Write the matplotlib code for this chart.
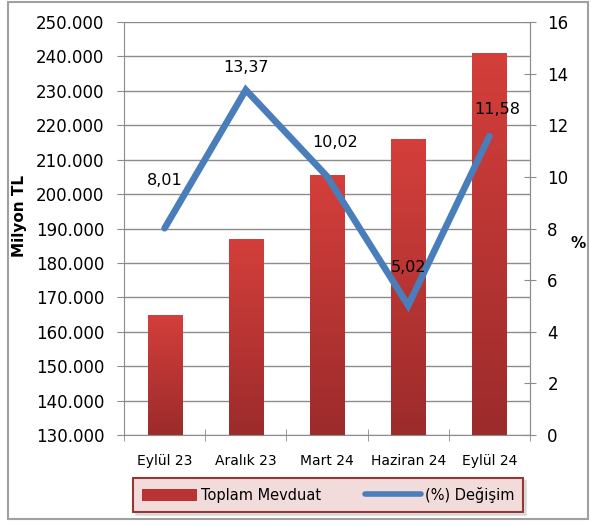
import numpy as np
import matplotlib
matplotlib.use("Agg")
import matplotlib.pyplot as plt
from matplotlib.patches import Rectangle, Patch
from matplotlib.lines import Line2D
from matplotlib.ticker import FixedLocator, FuncFormatter

categories = ["Eylül 23", "Aralık 23", "Mart 24", "Haziran 24", "Eylül 24"]
deposits = [164900, 187000, 205600, 216000, 240900]      # Milyon TL
change_pct = [8.01, 13.37, 10.02, 5.02, 11.58]
change_labels = ["8,01", "13,37", "10,02", "5,02", "11,58"]
label_offsets = [(0, 40), (0, 15), (8, 26), (0, 30), (8, 19)]   # px above the point

plt.rcParams["font.family"] = ["DejaVu Sans"]
BLUE = "#4a7ebb"
GRID = "#8c8c8c"

fig = plt.figure(figsize=(5.91, 5.25), dpi=100)
ax = fig.add_axes([124/591, 90/525, 406/591, 413/525])
x = np.arange(len(categories))

# bars with vertical gradient (light red top, dark red bottom)
grad = np.linspace(0, 1, 256).reshape(-1, 1)
cmap = matplotlib.colors.LinearSegmentedColormap.from_list("rg", ["#9c2b2b", "#d43f3b"])
bw = 0.42
ymin, ymax = 130000, 250000
for xi, v in zip(x, deposits):
    r = Rectangle((xi - bw/2, ymin), bw, v - ymin, facecolor="none", edgecolor="none")
    ax.add_patch(r)
    im = ax.imshow(grad, extent=(xi - bw/2, xi + bw/2, ymin, v), origin="lower",
                   aspect="auto", cmap=cmap, zorder=2)
    im.set_clip_path(r)

ax.set_xlim(-0.5, len(categories) - 0.5)
ax.set_ylim(ymin, ymax)
ax.yaxis.set_major_locator(FixedLocator(np.arange(130000, 250001, 10000)))
ax.yaxis.set_major_formatter(FuncFormatter(lambda v, p: f"{int(v):,}".replace(",", ".")))
ax.grid(axis="y", color=GRID, lw=1.0)
ax.set_axisbelow(True)
ax.set_xticks(x)
ax.set_xticklabels(categories, fontsize=10)
ax.xaxis.set_minor_locator(FixedLocator(np.arange(-0.5, len(categories), 1.0)))
ax.tick_params(axis="x", which="major", length=0, pad=14)
ax.tick_params(axis="x", which="minor", length=9, direction="inout", color=GRID)
ax.tick_params(axis="y", length=5, color=GRID, labelsize=12, pad=9)
for s in ["left", "bottom", "right"]:
    ax.spines[s].set_color(GRID)
ax.spines["top"].set_visible(False)
ax.set_ylabel("Milyon TL", fontsize=11, fontweight="bold")
ax.yaxis.set_label_coords(-0.238, 0.53)

ax2 = ax.twinx()
ax2.plot(x, change_pct, color=BLUE, lw=4.8, solid_capstyle="round", solid_joinstyle="miter", zorder=3)
for xi, v, lab, (dx, dy) in zip(x, change_pct, change_labels, label_offsets):
    ax2.annotate(lab, (xi, v), xytext=(dx * 0.72, dy * 0.72), textcoords="offset points",
                 ha="center", va="bottom", fontsize=11.5)
ax2.set_ylim(0, 16)
ax2.set_yticks(np.arange(0, 17, 2))
ax2.tick_params(axis="y", length=9, direction="inout", color=GRID, labelsize=12, pad=8)
for s in ["left", "bottom", "right", "top"]:
    ax2.spines[s].set_visible(False)
ax2.spines["right"].set_visible(True)
ax2.spines["right"].set_color(GRID)
fig.text(578/591, 1 - 243/525, "%", fontsize=11, fontweight="bold", ha="center", va="center")

handles = [Patch(facecolor="#b83434", edgecolor="none"),
           Line2D([0], [0], color=BLUE, lw=4, solid_capstyle="round")]
leg = fig.legend(handles, ["Toplam Mevduat", "(%) Değişim"], loc="center",
                 bbox_to_anchor=(328/591, 1 - 495/525), ncol=2, fontsize=10.5,
                 frameon=True, fancybox=False, shadow={"color": "#c8c8c8"}, handlelength=3.8,
                 handleheight=0.9, columnspacing=3.0, borderpad=0.6, handletextpad=0.3,
                 borderaxespad=0)
fr = leg.get_frame()
fr.set_facecolor("#f2dcdb")
fr.set_edgecolor("#953735")
fr.set_linewidth(1.5)
fr.set_alpha(1)

fig.patches.append(Rectangle((8/591, 6/525), 580/591, 517/525, transform=fig.transFigure,
                             fill=False, edgecolor="#a0a0a0", lw=1.5))

fig.savefig("out.png", dpi=100)
